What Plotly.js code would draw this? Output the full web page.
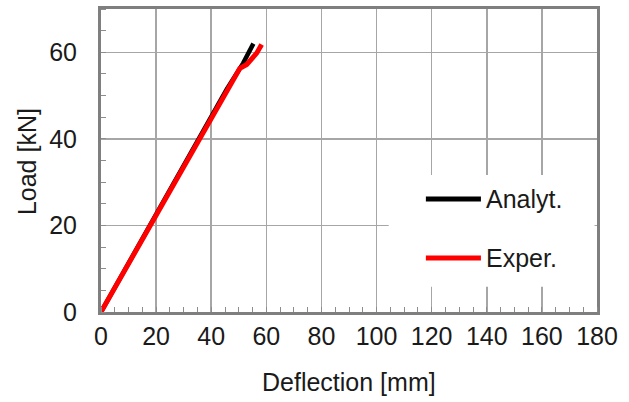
<!DOCTYPE html>
<html>
<head>
<meta charset="utf-8">
<script src="https://cdn.plot.ly/plotly-3.0.1.min.js"></script>
<style>html,body{margin:0;padding:0;background:#fff;}#chart{width:629px;height:402px;}</style>
</head>
<body>
<div id="chart"></div>
<script>
// Analytical curve (deflection mm, load kN)
const analytDefl = [0, 10, 20, 30, 40, 45.6, 51.6, 53.5, 55.3];
const analytLoad = [0, 11.3, 22.6, 33.9, 45.2, 51.4, 57.5, 59.8, 62.0];
// Experimental curve
const experDefl = [0, 10, 17.8, 30, 38.3, 45.6, 50.4, 52.9, 56.5, 58.3];
const experLoad = [0, 11.2, 20.0, 33.6, 43.1, 51.2, 56.3, 57.2, 59.8, 61.8];
const seriesNames = ["Analyt.", "Exper."];
const xTicks = [0, 20, 40, 60, 80, 100, 120, 140, 160, 180];
const yTicks = [0, 20, 40, 60];
const xTitle = "Deflection [mm]";
const yTitle = "Load [kN]";

const font = {family: "Liberation Sans, Arial, sans-serif", size: 25, color: "#1a1a1a"};
const axisCommon = {
  showline: true, linecolor: "#7f7f7f", linewidth: 3, mirror: true,
  showgrid: true, gridcolor: "#a6a6a6", gridwidth: 1.5,
  zeroline: false, ticks: "", tickfont: font, automargin: false,
  minor: {dtick: 5, ticks: "inside", ticklen: 5, tickcolor: "#8c8c8c", tickwidth: 1, showgrid: false}
};

const traces = [
  {x: analytDefl, y: analytLoad, name: seriesNames[0], mode: "lines", line: {color: "#000000", width: 4.5}, showlegend: false},
  {x: experDefl, y: experLoad, name: seriesNames[1], mode: "lines", line: {color: "#ff0000", width: 5}, showlegend: false}
];

const layout = {
  width: 629, height: 402,
  margin: {l: 101, r: 32, t: 9, b: 90},
  paper_bgcolor: "#fff", plot_bgcolor: "#fff",
  font: font,
  xaxis: Object.assign({}, axisCommon, {
    range: [0, 180], tickvals: xTicks, ticklabelstandoff: 0
  }),
  yaxis: Object.assign({}, axisCommon, {
    range: [0, 70], tickvals: yTicks, ticklabelstandoff: 16
  }),
  shapes: [
    {type: "rect", xref: "paper", yref: "paper", x0: 0.58, x1: 0.995, y0: 0.083, y1: 0.452,
     fillcolor: "#ffffff", line: {width: 0}, layer: "above"},
    {type: "line", xref: "paper", yref: "paper", x0: 0.655, x1: 0.766, y0: 0.373, y1: 0.373,
     line: {color: "#000000", width: 5}, layer: "above"},
    {type: "line", xref: "paper", yref: "paper", x0: 0.655, x1: 0.766, y0: 0.178, y1: 0.178,
     line: {color: "#ff0000", width: 5}, layer: "above"}
  ],
  annotations: [
    {xref: "paper", yref: "paper", x: 0.772, y: 0.373, xanchor: "left", yanchor: "middle",
     text: seriesNames[0], showarrow: false, font: font},
    {xref: "paper", yref: "paper", x: 0.772, y: 0.178, xanchor: "left", yanchor: "middle",
     text: seriesNames[1], showarrow: false, font: font},
    {xref: "paper", yref: "paper", x: 0.499, y: -0.231, xanchor: "center", yanchor: "middle",
     text: xTitle, showarrow: false, font: font},
    {xref: "paper", yref: "paper", x: -0.149, y: 0.495, xanchor: "center", yanchor: "middle",
     text: yTitle, showarrow: false, font: font, textangle: -90}
  ]
};

Plotly.newPlot("chart", traces, layout, {staticPlot: true, displayModeBar: false});
</script>
</body>
</html>
